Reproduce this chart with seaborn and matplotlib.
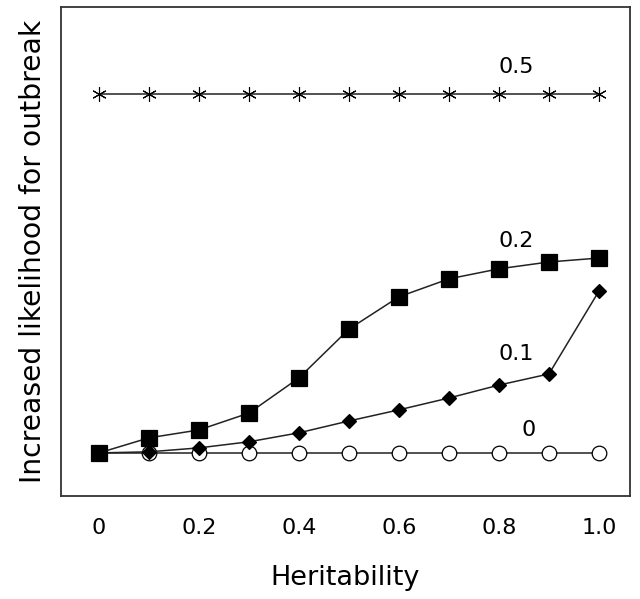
#!/usr/bin/env python3
# -*- coding: utf-8 -*-

import numpy as np
import pandas as pd
import seaborn as sns
import matplotlib
matplotlib.use("Agg")
import matplotlib.pyplot as plt

# heritability on x, relative likelihood on y (arbitrary units, no y ticks)
heritability = [0.0, 0.1, 0.2, 0.3, 0.4, 0.5, 0.6, 0.7, 0.8, 0.9, 1.0]
series_labels = ["0", "0.1", "0.2", "0.5"]
vals_0 = [0.0, 0.0, 0.0, 0.0, 0.0, 0.0, 0.0, 0.0, 0.0, 0.0, 0.0]
vals_01 = [0.0, 0.003, 0.014, 0.031, 0.056, 0.089, 0.120, 0.153, 0.189, 0.220, 0.451]
vals_02 = [0.0, 0.042, 0.064, 0.111, 0.209, 0.345, 0.435, 0.485, 0.513, 0.532, 0.543]
vals_05 = [1.0, 1.0, 1.0, 1.0, 1.0, 1.0, 1.0, 1.0, 1.0, 1.0, 1.0]
xtick_vals = [0, 0.2, 0.4, 0.6, 0.8, 1.0]
xtick_labels = ["0", "0.2", "0.4", "0.6", "0.8", "1.0"]

df = pd.DataFrame({
    "Heritability": heritability * 4,
    "value": vals_0 + vals_01 + vals_02 + vals_05,
    "series": np.repeat(series_labels, len(heritability)),
})

sns.set_style("white")
plt.rcParams["font.family"] = ["DejaVu Sans"]
plt.rcParams["text.color"] = "black"
plt.rcParams["axes.labelcolor"] = "black"
plt.rcParams["xtick.color"] = "black"

fig = plt.figure(figsize=(6.4, 5.99), dpi=100)
ax = fig.add_axes([0.0953, 0.172, 0.889, 0.816])

line_col = "#222222"
styles = {
    "0": dict(marker="o", markersize=10.5, markerfacecolor="white"),
    "0.1": dict(marker="D", markersize=7.5, markerfacecolor="black"),
    "0.2": dict(marker="s", markersize=11, markerfacecolor="black"),
    "0.5": dict(marker=(6, 2, 0), markersize=10.5, markerfacecolor="black",
                markeredgewidth=0.8),
}
for name in ["0", "0.1", "0.2", "0.5"]:
    kw = dict(markeredgecolor="black", markeredgewidth=0.9)
    kw.update(styles[name])
    sns.lineplot(data=df[df["series"] == name], x="Heritability", y="value",
                 color=line_col, linewidth=1.1, ax=ax, legend=False, **kw)

# series labels
label_pos = {"0.5": (0.835, 1.075), "0.2": (0.835, 0.59), "0.1": (0.835, 0.275),
             "0": (0.86, 0.065)}
for name, (lx, ly) in label_pos.items():
    ax.text(lx, ly, name, fontsize=16, ha="center", va="center")

ax.set_xlim(-0.076, 1.062)
ax.set_ylim(-0.120, 1.242)
ax.set_xticks(xtick_vals)
ax.set_xticklabels(xtick_labels, fontsize=16)
ax.tick_params(axis="x", length=0, pad=16)
ax.set_yticks([])
ax.set_xlabel("Heritability", fontsize=19.5, labelpad=19)
ax.set_ylabel("Increased likelihood for outbreak", fontsize=20.3, labelpad=10)
for sp in ax.spines.values():
    sp.set_color("#333333")
    sp.set_linewidth(1.3)

fig.savefig("out.png", dpi=100)
